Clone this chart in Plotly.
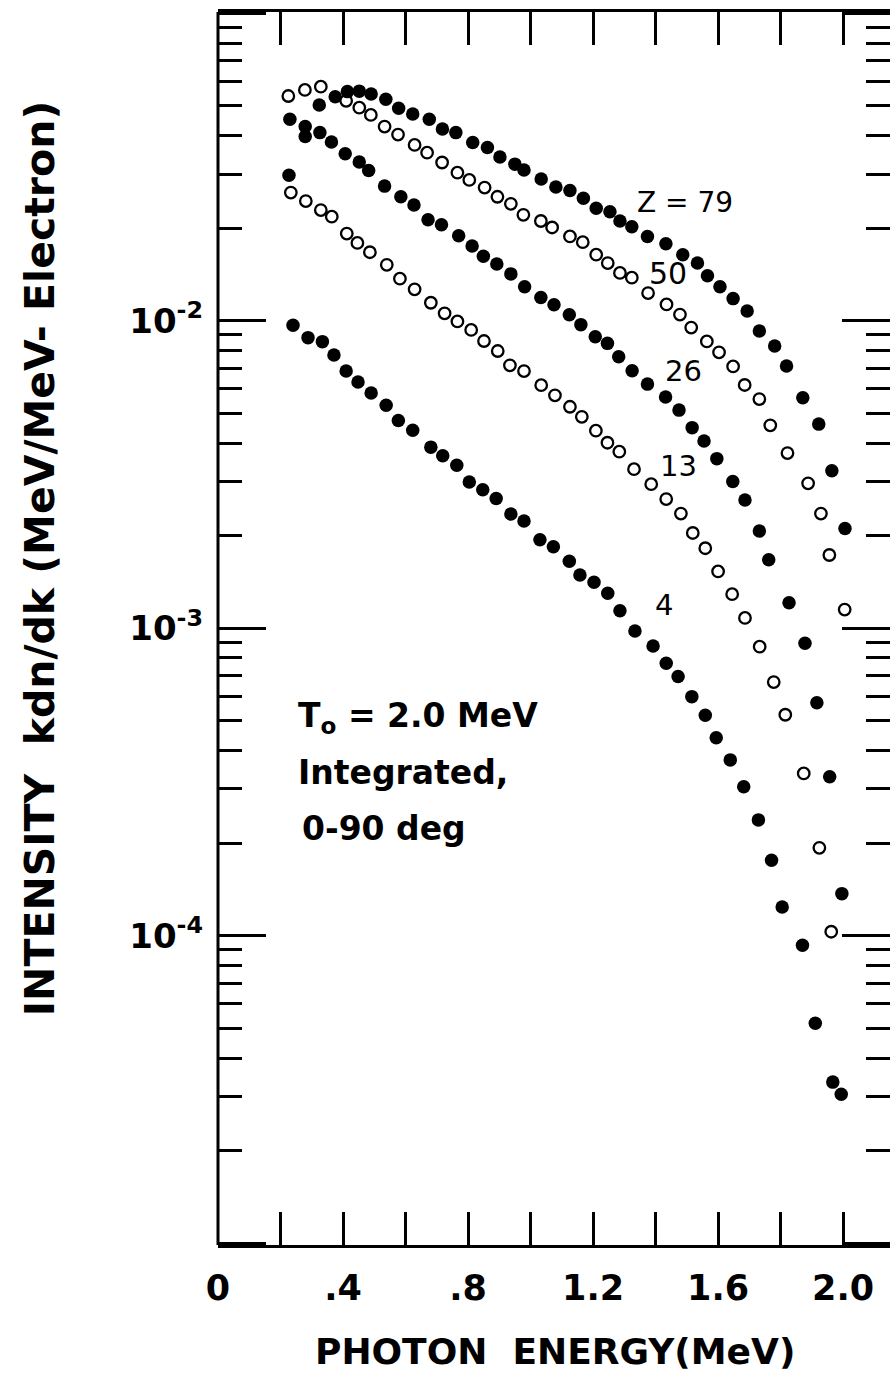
import plotly.graph_objects as go

# ---------------- data ----------------
# Z = 79 (filled circles)
z79_k = [0.279, 0.324, 0.375, 0.414, 0.452, 0.490, 0.537, 0.578, 0.623, 0.676,
         0.718, 0.761, 0.815, 0.862, 0.902, 0.950, 0.979, 1.034, 1.081, 1.126,
         1.169, 1.210, 1.254, 1.286, 1.324, 1.374, 1.433, 1.487, 1.534, 1.566,
         1.606, 1.648, 1.693, 1.732, 1.781, 1.819, 1.871, 1.922, 1.964, 2.006]
z79_i = [0.0397, 0.0503, 0.0535, 0.0556, 0.0558, 0.0546, 0.0525, 0.0491, 0.0470, 0.0452,
         0.0420, 0.0409, 0.0380, 0.0366, 0.0341, 0.0323, 0.0309, 0.0289, 0.0272, 0.0265,
         0.0250, 0.0232, 0.0226, 0.0211, 0.0202, 0.0188, 0.0178, 0.0164, 0.0154, 0.0140,
         0.0129, 0.0118, 0.01075, 0.00926, 0.00827, 0.00712, 0.00562, 0.00461, 0.00325, 0.00211]

# Z = 50 (open circles)
z50_k = [0.225, 0.278, 0.329, 0.410, 0.452, 0.489, 0.533, 0.576, 0.629, 0.669,
         0.717, 0.766, 0.804, 0.853, 0.894, 0.937, 0.977, 1.033, 1.069, 1.126,
         1.167, 1.210, 1.247, 1.286, 1.324, 1.376, 1.435, 1.478, 1.514, 1.564,
         1.603, 1.648, 1.685, 1.732, 1.767, 1.822, 1.888, 1.929, 1.956, 2.005]
z50_i = [0.0538, 0.0563, 0.0577, 0.0519, 0.0493, 0.0467, 0.0428, 0.0403, 0.0373, 0.0352,
         0.0327, 0.0303, 0.0287, 0.0271, 0.0253, 0.0240, 0.0221, 0.0211, 0.0201, 0.0188,
         0.0180, 0.0164, 0.0154, 0.0143, 0.0138, 0.0123, 0.0113, 0.01047, 0.00950, 0.00856,
         0.00789, 0.00710, 0.00618, 0.00556, 0.00457, 0.00371, 0.00296, 0.00236, 0.00173, 0.00115]

# Z = 26 (filled circles)
z26_k = [0.227, 0.230, 0.279, 0.326, 0.363, 0.407, 0.452, 0.482, 0.533, 0.585, 0.627,
         0.672, 0.715, 0.770, 0.813, 0.849, 0.892, 0.937, 0.981, 1.033, 1.075,
         1.124, 1.161, 1.207, 1.246, 1.282, 1.325, 1.374, 1.432, 1.475, 1.517,
         1.555, 1.596, 1.647, 1.686, 1.732, 1.762, 1.827, 1.878, 1.916, 1.957, 1.996]
z26_i = [0.0297, 0.0452, 0.0428, 0.0409, 0.0381, 0.0349, 0.0328, 0.0308, 0.0274, 0.0253, 0.0238,
         0.0213, 0.0205, 0.0189, 0.0175, 0.0162, 0.0153, 0.0142, 0.0129, 0.0119, 0.01127,
         0.01046, 0.00971, 0.00887, 0.00844, 0.00764, 0.00688, 0.00622, 0.00565, 0.00512, 0.00449,
         0.00406, 0.00356, 0.00300, 0.00261, 0.00207, 0.00167, 0.00121, 0.000893, 0.000572, 0.000329, 0.000137]

# Z = 13 (open circles)
z13_k = [0.233, 0.281, 0.329, 0.364, 0.412, 0.446, 0.486, 0.540, 0.582, 0.629,
         0.681, 0.725, 0.766, 0.810, 0.851, 0.895, 0.934, 0.979, 1.034, 1.078,
         1.126, 1.164, 1.209, 1.246, 1.284, 1.331, 1.386, 1.434, 1.481, 1.519,
         1.559, 1.600, 1.645, 1.686, 1.733, 1.778, 1.815, 1.874, 1.924, 1.962]
z13_i = [0.0261, 0.0245, 0.0229, 0.0218, 0.0192, 0.0179, 0.0167, 0.0152, 0.0137, 0.01265,
         0.01144, 0.01057, 0.00995, 0.00933, 0.00859, 0.00797, 0.00716, 0.00686, 0.00617, 0.00572,
         0.00525, 0.00487, 0.00439, 0.00401, 0.00375, 0.00329, 0.00294, 0.00263, 0.00236, 0.00204,
         0.00182, 0.00153, 0.00129, 0.00108, 0.000871, 0.000668, 0.000523, 0.000337, 0.000193, 0.000103]

# Z = 4 (filled circles)
z4_k = [0.240, 0.288, 0.334, 0.371, 0.410, 0.448, 0.490, 0.538, 0.577, 0.623,
        0.681, 0.719, 0.764, 0.804, 0.847, 0.890, 0.937, 0.979, 1.030, 1.073,
        1.124, 1.158, 1.203, 1.247, 1.286, 1.334, 1.392, 1.434, 1.472, 1.516,
        1.559, 1.594, 1.639, 1.682, 1.729, 1.771, 1.805, 1.870, 1.911, 1.967, 1.994]
z4_i = [0.00967, 0.00881, 0.00855, 0.00774, 0.00686, 0.00632, 0.00582, 0.00531, 0.00474, 0.00440,
        0.00388, 0.00364, 0.00339, 0.00299, 0.00282, 0.00264, 0.00235, 0.00223, 0.00194, 0.00184,
        0.00165, 0.00149, 0.00141, 0.00130, 0.00114, 0.000979, 0.000875, 0.000769, 0.000696, 0.000599,
        0.000521, 0.000440, 0.000373, 0.000305, 0.000238, 0.000176, 0.000124, 0.0000931, 0.0000519,
        0.0000334, 0.0000305]

x_tickvals = [0, 0.2, 0.4, 0.6, 0.8, 1.0, 1.2, 1.4, 1.6, 1.8, 2.0]
x_ticktext = ["0", "", ".4", "", ".8", "", "1.2", "", "1.6", "", "2.0"]
y_tickvals = [1e-5, 1e-4, 1e-3, 1e-2, 1e-1]
y_ticktext = ["", "10<sup>-4</sup>", "10<sup>-3</sup>", "10<sup>-2</sup>", ""]
y_minor = [m * 10.0 ** e for e in range(-5, -1) for m in range(2, 10)]

series_labels = ["Z = 79", "50", "26", "13", "4"]

# ---------------- figure ----------------
FONT = "DejaVu Sans"
fig = go.Figure()

filled = dict(symbol="circle", size=13.5, color="black")
opened = dict(symbol="circle-open", size=11.5, color="black", line=dict(width=2.3, color="black"))

fig.add_trace(go.Scatter(x=z79_k, y=z79_i, mode="markers", marker=filled, name="Z=79"))
fig.add_trace(go.Scatter(x=z50_k, y=z50_i, mode="markers", marker=opened, name="Z=50"))
fig.add_trace(go.Scatter(x=z26_k, y=z26_i, mode="markers", marker=filled, name="Z=26"))
fig.add_trace(go.Scatter(x=z13_k, y=z13_i, mode="markers", marker=opened, name="Z=13"))
fig.add_trace(go.Scatter(x=z4_k, y=z4_i, mode="markers", marker=filled, name="Z=4"))

# curve labels (annotation y on a log axis is given as log10)
label_pos = [(1.495, -1.616), (1.440, -1.848), (1.488, -2.163), (1.472, -2.472), (1.427, -2.924)]
label_size = [28, 30, 29, 29, 29]
for txt, (lx, ly), fs in zip(series_labels, label_pos, label_size):
    fig.add_annotation(x=lx, y=ly, xref="x", yref="y", text=txt, showarrow=False,
                       xanchor="center", yanchor="middle",
                       font=dict(family=FONT, size=fs, color="black"))

# condition text block
block = ["T<sub>o</sub> = 2.0 MeV", "Integrated,", "0-90 deg"]
block_y = [-3.292, -3.470, -3.650]
block_x = [0.250, 0.250, 0.262]
for txt, bx, by in zip(block, block_x, block_y):
    fig.add_annotation(x=bx, y=by, xref="x", yref="y", text="<b>" + txt + "</b>",
                       showarrow=False, xanchor="left", yanchor="middle",
                       font=dict(family=FONT, size=33, color="black"))

# axis titles as annotations
fig.add_annotation(x=-0.265, y=0.557, xref="paper", yref="paper", textangle=-90,
                   xanchor="center", yanchor="middle",
                   text="<b>INTENSITY  kdn/dk (MeV/MeV- Electron)</b>", showarrow=False,
                   font=dict(family=FONT, size=41, color="black"))
fig.add_annotation(x=0.5015, y=-0.0860, xref="paper", yref="paper",
                   xanchor="center", yanchor="middle",
                   text="<b>PHOTON  ENERGY(MeV)</b>", showarrow=False,
                   font=dict(family=FONT, size=36, color="black"))

# left frame line (the right-hand frame line lies outside the cropped picture)
fig.add_shape(type="line", xref="paper", yref="paper", x0=0, x1=0, y0=0, y1=1,
              line=dict(color="black", width=3))

fig.update_layout(
    width=890, height=1376,
    margin=dict(l=218, r=0, t=12, b=131),
    paper_bgcolor="white", plot_bgcolor="white",
    showlegend=False,
    font=dict(family=FONT, color="black"),
)
fig.update_xaxes(
    range=[0, 2.150], showgrid=False, zeroline=False,
    showline=True, linewidth=3, linecolor="black", mirror="ticks",
    ticks="inside", ticklen=33, tickwidth=2.5, tickcolor="black",
    tickmode="array", tickvals=x_tickvals, ticktext=x_ticktext,
    tickfont=dict(family=FONT, size=35, color="black", weight="bold"),
    ticklabelstandoff=10,
)
fig.update_yaxes(
    type="log", range=[-5.006, -0.996], showgrid=False, zeroline=False,
    showline=False, mirror="ticks",
    ticks="inside", ticklen=48, tickwidth=2.5, tickcolor="black",
    tickmode="array", tickvals=y_tickvals, ticktext=y_ticktext,
    tickfont=dict(family=FONT, size=34, color="black", weight="bold"),
    ticklabelstandoff=14,
    minor=dict(tickmode="array", tickvals=y_minor, ticks="inside", ticklen=24,
               tickwidth=2.5, tickcolor="black", showgrid=False),
)

fig.write_html("out.html")
